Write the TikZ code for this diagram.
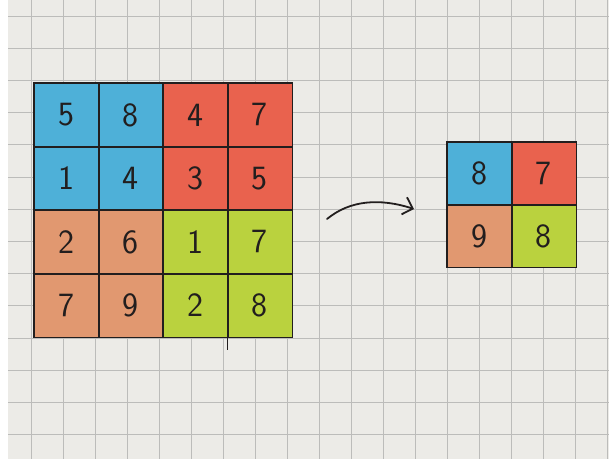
\documentclass[tikz,border=0pt]{standalone}
\usepackage{tikz}
\usetikzlibrary{arrows.meta,positioning}
\definecolor{paper}{RGB}{236,235,231}
\definecolor{gridgray}{RGB}{188,188,186}
\definecolor{poolblue}{RGB}{78,176,216}
\definecolor{poolred}{RGB}{233,98,78}
\definecolor{poolorange}{RGB}{225,152,112}
\definecolor{poolgreen}{RGB}{186,210,62}
\definecolor{ink}{RGB}{34,30,30}

\begin{document}
\begin{tikzpicture}[x=1pt,y=-1pt,>={Straight Barb[length=9pt,width=18pt]},
  font=\sffamily\fontsize{34}{34}\selectfont,
  cellbox/.style={minimum width=64.5pt,minimum height=63.5pt,inner sep=0pt,
    text=ink,anchor=north west},
  cellline/.style={draw=ink,line width=1.7pt}]
  \useasboundingbox (0,0) rectangle (609,459);
  % squared paper
  \fill[white] (0,0) rectangle (609,459);
  \fill[paper] (8,0) rectangle (609,459);
  \foreach \i in {0,...,18}
    \draw[gridgray,line width=0.7pt] ({31+32*\i},0) -- ({31+32*\i},459);
  \foreach \j in {0,...,13}
    \draw[gridgray,line width=0.7pt] (8,{16+32.2*\j}) -- (609,{16+32.2*\j});
  % input 4x4
  \foreach \r/\c/\v/\col in {1/1/5/poolblue,1/2/8/poolblue,1/3/4/poolred,1/4/7/poolred,
      2/1/1/poolblue,2/2/4/poolblue,2/3/3/poolred,2/4/5/poolred,
      3/1/2/poolorange,3/2/6/poolorange,3/3/1/poolgreen,3/4/7/poolgreen,
      4/1/7/poolorange,4/2/9/poolorange,4/3/2/poolgreen,4/4/8/poolgreen}
    \node[cellbox,fill=\col] (in\r\c) at ({34+64.5*(\c-1)},{83+63.5*(\r-1)}) {\v};
  \foreach \r in {1,...,4}
    \foreach \c in {1,...,4}
      \draw[cellline] (in\r\c.north west) rectangle (in\r\c.south east);
  \draw[cellline] (in44.south west) -- ++(0,13);
  % output 2x2
  \foreach \r/\c/\v/\col in {1/1/8/poolblue,1/2/7/poolred,2/1/9/poolorange,2/2/8/poolgreen}
    \node[cellbox,fill=\col,minimum height=62.5pt] (out\r\c) at ({447+64.5*(\c-1)},{142+62.5*(\r-1)}) {\v};
  \foreach \r in {1,2}
    \foreach \c in {1,2}
      \draw[cellline] (out\r\c.north west) rectangle (out\r\c.south east);
  % arrow
  \coordinate (arrstart) at (327,219);
  \coordinate (arrend) at (414,209);
  \draw[->,ink,line width=1.8pt,line cap=round] (arrstart) .. controls (350,200) and (380,198) .. (arrend);
\end{tikzpicture}
\end{document}
